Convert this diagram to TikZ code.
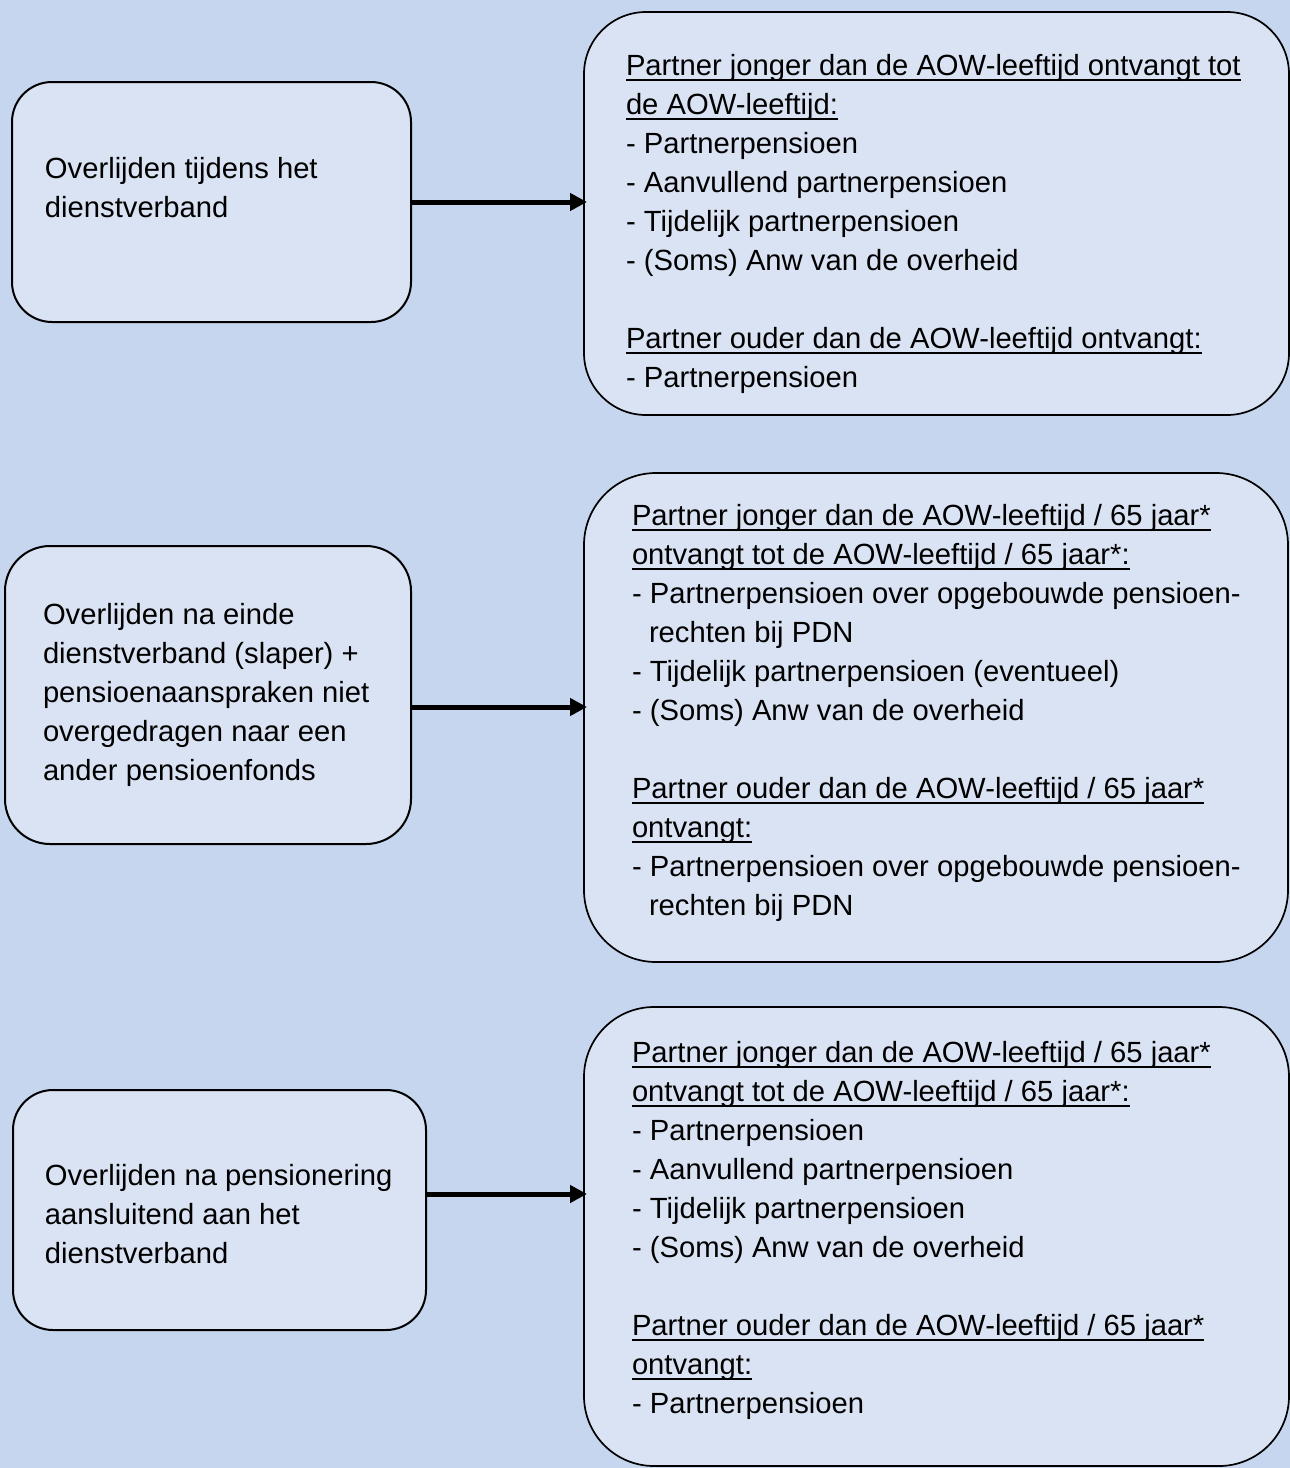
\documentclass[tikz,border=0pt]{standalone}
\usepackage{fontspec}
\setmainfont{Liberation Sans}
\usetikzlibrary{arrows.meta}
\definecolor{bgblue}{RGB}{198,214,239}
\definecolor{boxfill}{RGB}{218,227,243}
\newcommand\ulx[1]{\setbox0=\hbox{#1}\rlap{\rule[-6pt]{\wd0}{2.2pt}}\box0}
\newcommand\txtlines[1]{\vtop{\baselineskip=39pt\lineskiplimit=-100pt #1}}
\begin{document}
\begin{tikzpicture}[x=1pt,y=-1pt,
  rbox/.style={draw=black, line width=2pt, fill=boxfill, rounded corners=#1,
    anchor=north west, inner sep=0pt, outer sep=0pt},
  bigbox/.style={rbox=#1, line width=1.7pt},
  txt/.style={anchor=base west, inner sep=0pt, outer sep=0pt,
    font=\fontsize{29.2pt}{39pt}\selectfont},
  arr/.style={line width=5pt, -{Triangle[length=17pt,width=17pt]}, shorten >=-3pt}]
\fill[bgblue] (0,0) rectangle (1290,1468);
\useasboundingbox (0,0) rectangle (1290,1468);

% boxes
\node[rbox=40pt, minimum width=399pt, minimum height=240pt] (L1) at (12,82) {};
\node[bigbox=62pt, minimum width=705pt, minimum height=403pt] (R1) at (584,12) {};
\node[rbox=45pt, minimum width=406pt, minimum height=298pt] (L2) at (5,546) {};
\node[bigbox=72pt, minimum width=704pt, minimum height=489pt] (R2) at (584,473) {};
\node[rbox=40pt, minimum width=413pt, minimum height=240pt] (L3) at (13,1090) {};
\node[bigbox=70pt, minimum width=705pt, minimum height=459pt] (R3) at (584,1007) {};

% texts
\node[txt] (t1) at (45,178) {\txtlines{%
  \hbox{Overlijden tijdens het}
  \hbox{dienstverband}}};
\node[txt] (t2) at (626,75) {\txtlines{%
  \hbox{\ulx{Partner jonger dan de AOW-leeftijd ontvangt tot}}
  \hbox{\ulx{de AOW-leeftijd:}}
  \hbox{- Partnerpensioen}
  \hbox{- Aanvullend partnerpensioen}
  \hbox{- Tijdelijk partnerpensioen}
  \hbox{- (Soms) Anw van de overheid}
  \hbox{}
  \hbox{\ulx{Partner ouder dan de AOW-leeftijd ontvangt:}}
  \hbox{- Partnerpensioen}}};
\node[txt] (t3) at (43,624) {\txtlines{%
  \hbox{Overlijden na einde}
  \hbox{dienstverband (slaper) +}
  \hbox{pensioenaanspraken niet}
  \hbox{overgedragen naar een}
  \hbox{ander pensioenfonds}}};
\node[txt] (t4) at (632,525) {\txtlines{%
  \hbox{\ulx{Partner jonger dan de AOW-leeftijd / 65 jaar*}}
  \hbox{\ulx{ontvangt tot de AOW-leeftijd / 65 jaar*:}}
  \hbox{- Partnerpensioen over opgebouwde pensioen-}
  \hbox{\kern17pt rechten bij PDN}
  \hbox{- Tijdelijk partnerpensioen (eventueel)}
  \hbox{- (Soms) Anw van de overheid}
  \hbox{}
  \hbox{\ulx{Partner ouder dan de AOW-leeftijd / 65 jaar*}}
  \hbox{\ulx{ontvangt:}}
  \hbox{- Partnerpensioen over opgebouwde pensioen-}
  \hbox{\kern17pt rechten bij PDN}}};
\node[txt] (t5) at (45,1185) {\txtlines{%
  \hbox{Overlijden na pensionering}
  \hbox{aansluitend aan het}
  \hbox{dienstverband}}};
\node[txt] (t6) at (632,1062) {\txtlines{%
  \hbox{\ulx{Partner jonger dan de AOW-leeftijd / 65 jaar*}}
  \hbox{\ulx{ontvangt tot de AOW-leeftijd / 65 jaar*:}}
  \hbox{- Partnerpensioen}
  \hbox{- Aanvullend partnerpensioen}
  \hbox{- Tijdelijk partnerpensioen}
  \hbox{- (Soms) Anw van de overheid}
  \hbox{}
  \hbox{\ulx{Partner ouder dan de AOW-leeftijd / 65 jaar*}}
  \hbox{\ulx{ontvangt:}}
  \hbox{- Partnerpensioen}}};

% arrows
\draw[arr] (L1.east) -- (L1.east -| R1.west);
\draw[arr] ([yshift=-12pt]L2.east) -- ([yshift=-12pt]L2.east -| R2.west);
\draw[arr] ([yshift=16pt]L3.east) -- ([yshift=16pt]L3.east -| R3.west);
\end{tikzpicture}
\end{document}
